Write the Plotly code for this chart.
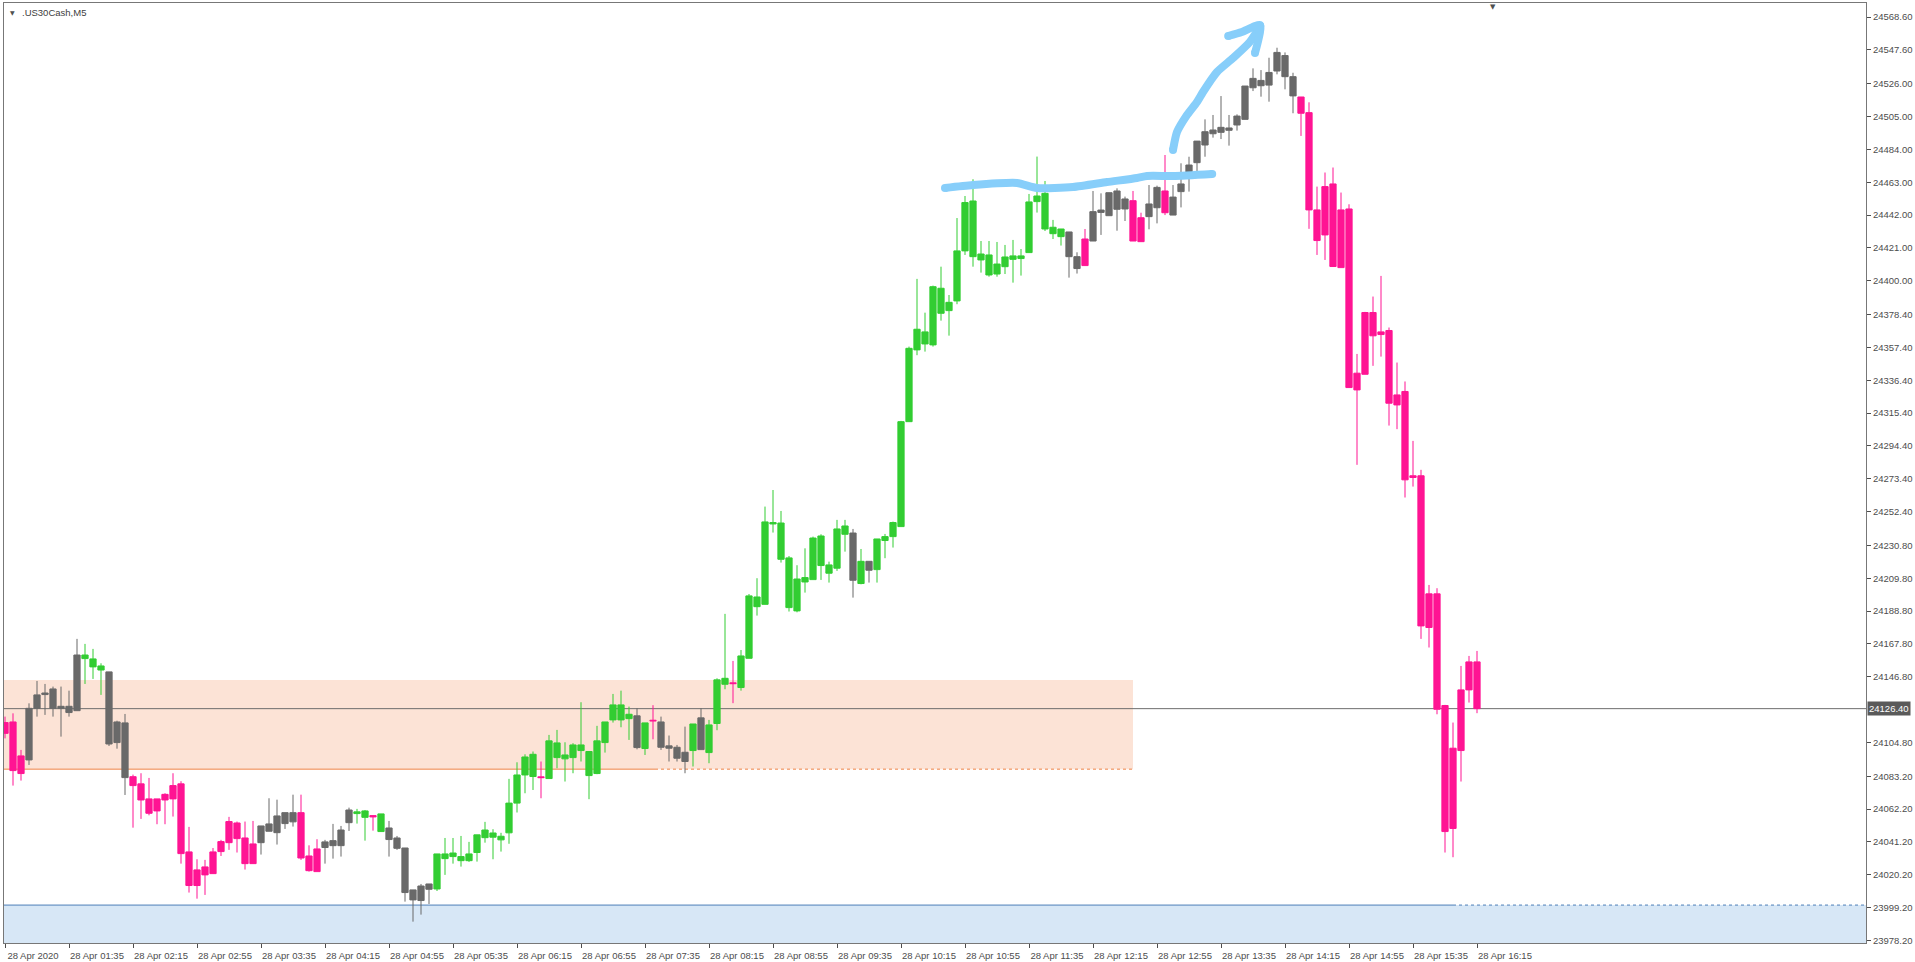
import plotly.graph_objects as go

# ---------------- data (US30Cash, M5, 28 Apr 2020, bars from 00:55) ----------------
opens = [
    24117.5, 24117.9, 24084.9, 24093.6, 24126.6, 24135.4, 24139.0, 24126.6, 24127.9, 24125.1,
    24160.7, 24158.2, 24153.7, 24149.9, 24104.7, 24117.3, 24082.9, 24078.3, 24068.7, 24061.0,
    24068.0, 24068.7, 24078.3, 24034.8, 24013.3, 24025.2, 24020.9, 24035.0, 24040.7, 24053.3,
    24043.7, 24027.3, 24040.7, 24048.0, 24047.1, 24052.9, 24059.9, 24059.9, 24032.2, 24022.2,
    24037.6, 24038.8, 24038.8, 24053.5, 24059.3, 24056.9, 24058.0, 24059.1, 24050.1, 24043.7,
    24037.3, 24010.5, 24003.7, 24014.3, 24011.1, 24033.5, 24031.8, 24031.8, 24029.2, 24034.4,
    24043.9, 24046.9, 24044.8, 24047.0, 24066.0, 24084.0, 24083.0, 24082.8, 24081.7, 24104.5,
    24094.3, 24095.1, 24103.2, 24099.0, 24084.9, 24104.7, 24119.2, 24128.8, 24120.0, 24121.8,
    24100.9, 24119.0, 24117.9, 24102.6, 24101.7, 24098.5, 24099.6, 24100.2, 24116.0, 24116.9,
    24142.0, 24142.9, 24139.9, 24158.6, 24197.8, 24193.1, 24245.4, 24245.1, 24222.8, 24188.9,
    24207.4, 24208.9, 24236.8, 24218.3, 24216.2, 24237.9, 24238.7, 24206.4, 24220.6, 24215.3,
    24233.9, 24236.4, 24242.8, 24309.9, 24355.8, 24367.3, 24359.0, 24395.2, 24380.9, 24387.1,
    24419.1, 24451.0, 24413.3, 24416.5, 24404.3, 24409.0, 24415.9, 24414.2, 24418.0, 24450.6,
    24455.9, 24434.2, 24433.1, 24431.2, 24415.4, 24409.7, 24425.4, 24443.7, 24441.6, 24457.4,
    24445.9, 24451.2, 24425.0, 24441.0, 24446.7, 24457.4, 24442.0, 24457.0, 24469.1, 24475.5,
    24486.8, 24494.0, 24494.9, 24496.2, 24499.6, 24503.2, 24523.4, 24528.1, 24525.1, 24534.1,
    24544.0, 24530.5, 24517.5, 24507.5, 24445.3, 24429.3, 24461.9, 24408.4, 24445.9, 24330.2,
    24340.2, 24379.7, 24365.6, 24368.2, 24320.6, 24329.2, 24274.2, 24275.3, 24178.3, 24199.8,
    24128.4, 24049.8, 24099.6, 24138.4, 24156.3,
]
highs = [
    24121.3, 24123.4, 24100.0, 24129.8, 24144.1, 24142.2, 24140.5, 24140.5, 24137.9, 24171.0,
    24167.8, 24164.6, 24155.4, 24149.9, 24118.7, 24123.0, 24084.2, 24085.1, 24082.1, 24068.7,
    24072.3, 24085.1, 24080.0, 24050.8, 24030.1, 24029.7, 24037.3, 24042.5, 24057.2, 24054.2,
    24054.2, 24054.6, 24051.4, 24069.1, 24068.2, 24059.9, 24071.4, 24071.4, 24039.0, 24042.9,
    24042.5, 24052.7, 24051.4, 24063.1, 24062.3, 24061.6, 24058.0, 24059.1, 24054.6, 24045.0,
    24037.3, 24010.5, 24014.3, 24014.3, 24033.5, 24043.7, 24043.7, 24045.0, 24041.2, 24045.7,
    24054.0, 24049.3, 24047.0, 24081.5, 24092.1, 24097.2, 24099.0, 24092.6, 24109.6, 24112.8,
    24104.9, 24104.3, 24130.5, 24099.0, 24115.4, 24117.9, 24135.8, 24137.9, 24127.7, 24126.7,
    24117.3, 24128.6, 24121.3, 24109.2, 24103.2, 24114.9, 24116.6, 24126.7, 24119.2, 24145.8,
    24187.0, 24156.9, 24163.9, 24199.7, 24209.8, 24255.6, 24266.2, 24252.8, 24224.0, 24218.1,
    24228.9, 24236.4, 24237.9, 24220.4, 24247.1, 24247.1, 24241.3, 24228.5, 24220.6, 24234.9,
    24238.1, 24246.0, 24310.4, 24357.9, 24401.2, 24379.6, 24396.9, 24409.0, 24390.9, 24440.1,
    24454.2, 24464.9, 24425.4, 24425.4, 24424.8, 24422.9, 24426.1, 24420.3, 24455.5, 24479.4,
    24463.8, 24438.9, 24433.1, 24431.2, 24418.2, 24433.1, 24457.4, 24455.9, 24456.3, 24459.1,
    24453.8, 24457.4, 24443.5, 24461.2, 24460.8, 24480.4, 24461.2, 24475.1, 24479.3, 24489.3,
    24503.2, 24506.0, 24518.1, 24506.0, 24506.4, 24524.5, 24535.8, 24534.7, 24542.6, 24549.0,
    24546.0, 24533.0, 24517.5, 24514.1, 24460.2, 24469.2, 24472.4, 24456.4, 24448.9, 24353.2,
    24380.1, 24389.9, 24403.1, 24370.1, 24347.7, 24335.6, 24297.6, 24279.1, 24205.5, 24203.4,
    24128.8, 24117.5, 24153.7, 24160.1, 24163.3,
]
lows = [
    24107.4, 24077.2, 24080.4, 24090.4, 24121.3, 24122.4, 24121.3, 24108.5, 24121.3, 24125.1,
    24142.2, 24145.4, 24135.2, 24102.5, 24100.8, 24071.2, 24050.3, 24055.9, 24058.2, 24052.5,
    24052.5, 24057.4, 24027.3, 24008.8, 24004.9, 24007.3, 24020.9, 24032.2, 24036.1, 24034.4,
    24023.5, 24027.3, 24033.1, 24048.0, 24039.5, 24049.5, 24051.0, 24029.7, 24022.2, 24022.2,
    24027.3, 24030.5, 24031.8, 24048.2, 24052.9, 24042.0, 24048.4, 24047.8, 24031.8, 24036.1,
    24003.0, 23990.2, 23994.7, 24001.5, 24009.8, 24020.1, 24027.3, 24025.4, 24028.4, 24028.6,
    24040.7, 24030.1, 24035.0, 24040.0, 24060.0, 24072.3, 24074.4, 24069.1, 24081.7, 24088.3,
    24079.8, 24085.1, 24092.6, 24068.5, 24084.5, 24098.3, 24117.5, 24114.5, 24106.4, 24100.4,
    24096.8, 24106.8, 24100.0, 24092.6, 24092.6, 24085.1, 24089.4, 24100.2, 24091.5, 24112.6,
    24138.8, 24129.9, 24137.9, 24158.6, 24185.9, 24193.1, 24239.0, 24219.8, 24188.5, 24188.0,
    24200.6, 24208.9, 24208.7, 24207.0, 24214.5, 24226.8, 24197.4, 24205.9, 24207.0, 24207.0,
    24222.6, 24229.4, 24242.8, 24309.9, 24352.4, 24354.7, 24357.9, 24374.5, 24364.9, 24385.0,
    24416.5, 24409.0, 24405.2, 24402.6, 24402.6, 24404.3, 24398.8, 24403.3, 24418.0, 24443.6,
    24431.8, 24426.7, 24422.5, 24402.0, 24404.6, 24409.7, 24425.4, 24429.3, 24441.6, 24432.0,
    24438.2, 24425.4, 24425.0, 24432.9, 24436.7, 24442.0, 24442.0, 24446.9, 24457.0, 24469.7,
    24479.3, 24491.5, 24490.6, 24486.4, 24496.0, 24503.2, 24521.3, 24517.7, 24514.5, 24532.0,
    24522.4, 24507.1, 24492.6, 24433.2, 24416.5, 24413.3, 24409.1, 24408.4, 24331.7, 24282.3,
    24340.2, 24345.6, 24351.5, 24307.4, 24305.1, 24261.4, 24268.4, 24171.0, 24165.5, 24122.8,
    24034.4, 24031.4, 24079.8, 24130.3, 24123.5,
]
closes = [
    24110.6, 24086.8, 24096.2, 24126.6, 24135.2, 24136.4, 24126.6, 24127.9, 24123.9, 24160.7,
    24158.4, 24153.1, 24151.1, 24103.8, 24117.9, 24082.3, 24077.2, 24068.0, 24059.5, 24068.7,
    24071.6, 24077.2, 24033.7, 24013.3, 24023.3, 24020.1, 24034.8, 24041.4, 24054.2, 24043.3,
    24027.3, 24039.9, 24051.4, 24052.7, 24057.8, 24059.9, 24054.0, 24030.9, 24022.8, 24036.7,
    24041.2, 24042.0, 24048.8, 24061.6, 24060.4, 24061.0, 24057.2, 24047.8, 24042.7, 24037.1,
    24008.8, 24004.1, 24013.0, 24010.9, 24033.5, 24030.5, 24034.1, 24029.2, 24033.5, 24045.7,
    24048.8, 24044.2, 24042.5, 24066.0, 24084.0, 24095.5, 24097.2, 24082.3, 24105.8, 24095.1,
    24096.8, 24103.2, 24099.6, 24083.6, 24105.8, 24117.9, 24128.8, 24119.2, 24122.8, 24101.5,
    24117.3, 24118.6, 24101.7, 24101.1, 24094.7, 24092.6, 24116.6, 24120.5, 24098.3, 24144.8,
    24145.8, 24142.4, 24160.1, 24198.5, 24191.6, 24245.8, 24244.5, 24221.9, 24191.0, 24209.3,
    24210.2, 24235.5, 24217.9, 24213.0, 24241.3, 24243.2, 24208.5, 24220.6, 24214.9, 24234.9,
    24236.4, 24245.4, 24309.9, 24356.8, 24369.0, 24359.6, 24396.2, 24379.2, 24386.2, 24419.1,
    24450.0, 24415.4, 24417.1, 24403.7, 24410.7, 24415.2, 24413.7, 24415.9, 24450.4, 24454.2,
    24433.1, 24430.1, 24428.2, 24415.4, 24407.8, 24426.7, 24444.2, 24445.2, 24456.3, 24445.7,
    24452.3, 24425.4, 24440.3, 24449.1, 24459.7, 24443.5, 24453.5, 24461.9, 24474.0, 24489.3,
    24495.3, 24496.4, 24498.1, 24497.7, 24505.3, 24524.5, 24529.4, 24524.7, 24533.2, 24546.0,
    24530.5, 24518.2, 24507.1, 24445.3, 24425.7, 24460.2, 24409.1, 24445.3, 24331.7, 24340.9,
    24379.7, 24364.8, 24367.3, 24321.7, 24327.0, 24272.7, 24275.3, 24179.3, 24199.8, 24126.0,
    24047.8, 24101.1, 24138.4, 24156.3, 24126.4,
]
# trend colour of each bar: g = up-trend (green), p = down-trend (pink), n = neutral (grey)
trend = list(
    "ppp" "nnnnnnn" "ggg" "nnn" "pppppppppppppppp" "nnnnn" "ppp" "nnnn" "gg" "p" "g"
    "nnnnnn" "ggggggggggggg" "p" "ggggggggggg" "n" "g" "p" "nnnn" "g" "n" "ggg" "p"
    "gggggggggggggg" "n" "g" "n" "gggggggggggggggggggggggg" "nn" "p" "nnnnn" "pp" "nn" "p"
    "nnnnnnnnnnnnnnnn" "ppppppppppppppppppppppp"
)

x_tick_bars = [0, 8, 16, 24, 32, 40, 48, 56, 64, 72, 80, 88, 96, 104, 112, 120,
               128, 136, 144, 152, 160, 168, 176, 184]
x_tick_labels = ["28 Apr 2020", "28 Apr 01:35", "28 Apr 02:15", "28 Apr 02:55", "28 Apr 03:35",
                 "28 Apr 04:15", "28 Apr 04:55", "28 Apr 05:35", "28 Apr 06:15", "28 Apr 06:55",
                 "28 Apr 07:35", "28 Apr 08:15", "28 Apr 08:55", "28 Apr 09:35", "28 Apr 10:15",
                 "28 Apr 10:55", "28 Apr 11:35", "28 Apr 12:15", "28 Apr 12:55", "28 Apr 13:35",
                 "28 Apr 14:15", "28 Apr 14:55", "28 Apr 15:35", "28 Apr 16:15"]
y_tick_values = [24568.60, 24547.60, 24526.00, 24505.00, 24484.00, 24463.00, 24442.00,
                 24421.00, 24400.00, 24378.40, 24357.40, 24336.40, 24315.40, 24294.40,
                 24273.40, 24252.40, 24230.80, 24209.80, 24188.80, 24167.80, 24146.80,
                 24104.80, 24083.20, 24062.20, 24041.20, 24020.20, 23999.20, 23978.20]
y_tick_labels = ["%.2f" % v for v in y_tick_values]

current_price = 24126.4
zone_top, zone_bottom, zone_end_bar, zone_solid_end_bar = 24144.7, 24087.7, 141, 81.25
support_level, support_solid_end_bar = 24000.8, 181
# hand-drawn strokes (bar index, price)
stroke_flat_x = [117.5, 121.0, 126.5, 129.0, 133.5, 137.75, 141.5, 142.75, 146.0, 150.9]
stroke_flat_y = [24459.3, 24461.2, 24462.5, 24459.3, 24459.9, 24463.1, 24465.7, 24467.0, 24467.0, 24468.3]
stroke_up_x = [146.0, 146.5, 147.75, 149.0, 149.75, 151.5, 153.5, 155.6, 156.9]
stroke_up_y = [24483.6, 24495.1, 24506.0, 24514.3, 24520.7, 24533.5, 24542.4, 24552.7, 24562.9]
arrow_head_x = [152.9, 154.6, 156.9, 156.25]
arrow_head_y = [24556.5, 24559.1, 24563.5, 24545.6]

# ---------------- figure ----------------
COLORS = {"g": "#32CD32", "p": "#FF1493", "n": "#696969"}
FONT = "Liberation Sans, Arial, sans-serif"
AXC = "#4d4d4d"

fig = go.Figure()
bars = list(range(len(opens)))
for code in ["n", "g", "p"]:
    idx = [i for i in bars if trend[i] == code]
    c = COLORS[code]
    fig.add_trace(go.Candlestick(
        x=idx,
        open=[opens[i] for i in idx], high=[highs[i] for i in idx],
        low=[lows[i] for i in idx], close=[closes[i] for i in idx],
        increasing=dict(line=dict(color=c, width=1), fillcolor=c),
        decreasing=dict(line=dict(color=c, width=1), fillcolor=c),
        whiskerwidth=0, showlegend=False, hoverinfo="skip",
    ))

BLUE = "#87CEFA"
for xs, ys in [(stroke_flat_x, stroke_flat_y), (stroke_up_x, stroke_up_y), (arrow_head_x, arrow_head_y)]:
    fig.add_trace(go.Scatter(x=xs, y=ys, mode="lines",
                             line=dict(color=BLUE, width=8, shape="spline", smoothing=0.6),
                             showlegend=False, hoverinfo="skip"))
    fig.add_trace(go.Scatter(x=[xs[0], xs[-1]], y=[ys[0], ys[-1]], mode="markers",
                             marker=dict(color=BLUE, size=8, line=dict(width=0)),
                             showlegend=False, hoverinfo="skip"))

shapes = [
    dict(type="rect", xref="x", yref="y", x0=-10, x1=zone_end_bar, y0=zone_bottom, y1=zone_top,
         fillcolor="#FCE3D6", line=dict(width=0), layer="below"),
    dict(type="line", xref="x", yref="y", x0=-10, x1=zone_solid_end_bar, y0=zone_bottom, y1=zone_bottom,
         line=dict(color="#EE8548", width=1), layer="below"),
    dict(type="line", xref="x", yref="y", x0=zone_solid_end_bar, x1=zone_end_bar, y0=zone_bottom, y1=zone_bottom,
         line=dict(color="#EE8548", width=1, dash="3px,3px"), layer="below"),
    dict(type="rect", xref="x", yref="y", x0=-10, x1=260, y0=23900, y1=support_level,
         fillcolor="#D7E7F6", line=dict(width=0), layer="below"),
    dict(type="line", xref="x", yref="y", x0=-10, x1=support_solid_end_bar, y0=support_level, y1=support_level,
         line=dict(color="#4C7FB8", width=1), layer="below"),
    dict(type="line", xref="x", yref="y", x0=support_solid_end_bar, x1=260, y0=support_level, y1=support_level,
         line=dict(color="#4C7FB8", width=1, dash="3px,3px"), layer="below"),
    dict(type="line", xref="x", yref="y", x0=-10, x1=260, y0=current_price, y1=current_price,
         line=dict(color="#6E6E6E", width=1), layer="below"),
]

annotations = [
    dict(xref="paper", yref="paper", x=0, y=1, xanchor="left", yanchor="middle",
         xshift=16, yshift=-9, text=".US30Cash,M5", showarrow=False,
         font=dict(family=FONT, size=9.5, color="#404040")),
    dict(xref="paper", yref="paper", x=0, y=1, xanchor="center", yanchor="middle",
         xshift=8, yshift=-9, text="\u25BC", showarrow=False,
         font=dict(family="DejaVu Sans", size=6, color="#505050")),
    dict(xref="x", yref="paper", x=186, y=1, xanchor="center", yanchor="top",
         yshift=2, text="\u25BC", showarrow=False,
         font=dict(family="DejaVu Sans", size=7, color="#505050")),
    dict(xref="paper", yref="y", x=1, y=current_price, xanchor="left", yanchor="middle",
         xshift=1, text="%.2f" % current_price, showarrow=False, bgcolor="#5A5A5A",
         borderpad=1, font=dict(family=FONT, size=9.5, color="#FFFFFF")),
]

fig.update_layout(
    width=1915, height=962,
    margin=dict(l=4, r=49, t=3, b=19, autoexpand=False),
    paper_bgcolor="white", plot_bgcolor="white",
    boxgap=0.22, boxgroupgap=0,
    shapes=shapes, annotations=annotations,
    hovermode=False,
    xaxis=dict(
        range=[-0.125, 232.625], tickmode="array", tickvals=x_tick_bars, ticktext=x_tick_labels,
        ticks="outside", ticklen=4, tickcolor=AXC, showline=True, linecolor="#777777", linewidth=1,
        mirror=True, showgrid=False, zeroline=False, rangeslider=dict(visible=False),
        ticklabelshift=28, automargin=False, tickfont=dict(family=FONT, size=9.5, color=AXC),
    ),
    yaxis=dict(
        side="right", range=[23976.55, 24577.6], tickmode="array", tickvals=y_tick_values,
        ticktext=y_tick_labels, ticks="outside", ticklen=4, tickcolor=AXC, showline=True,
        linecolor="#777777", linewidth=1, mirror=True, showgrid=False, zeroline=False,
        automargin=False, tickfont=dict(family=FONT, size=9.5, color=AXC),
    ),
)

fig.write_html(
    "out.html",
    config={"displayModeBar": False},
    post_script="document.body.style.margin='0px';document.body.style.overflow='hidden';",
)
